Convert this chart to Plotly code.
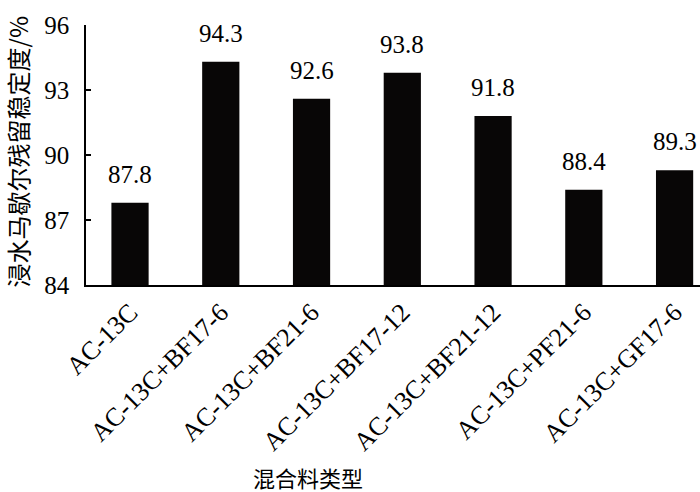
import plotly.graph_objects as go

categories = ["AC-13C", "AC-13C+BF17-6", "AC-13C+BF21-6", "AC-13C+BF17-12",
              "AC-13C+BF21-12", "AC-13C+PF21-6", "AC-13C+GF17-6"]
values = [87.8, 94.3, 92.6, 93.8, 91.8, 88.4, 89.3]
y_ticks = [84, 87, 90, 93, 96]
x_title = "混合料类型"
y_title = "浸水马歇尔残留稳定度/%"

serif = "Liberation Serif"
cjk = "Noto Sans CJK SC"

fig = go.Figure()
fig.add_trace(go.Bar(
    x=list(range(len(categories))), y=values,
    marker=dict(color="#080606", line=dict(width=0)),
    width=0.41,
))
for i, v in enumerate(values):
    fig.add_annotation(x=i, y=v, text=f"{v:.1f}", showarrow=False,
                       yanchor="bottom", yshift=13,
                       font=dict(family=serif, size=25, color="black"))

fig.add_annotation(xref="paper", yref="paper", x=0.3616, y=-0.738,
                   text=x_title, showarrow=False, xanchor="center", yanchor="middle",
                   font=dict(family=cjk, size=22, color="black"))
fig.add_annotation(xref="paper", yref="paper", x=-0.1115, y=0.512,
                   text=y_title, showarrow=False, textangle=-90,
                   xanchor="center", yanchor="middle",
                   font=dict(family=cjk, size=24, color="black"))

fig.update_layout(
    width=700, height=492,
    margin=dict(l=86, r=0, t=25, b=207),
    paper_bgcolor="white", plot_bgcolor="white",
    showlegend=False,
    font=dict(family=serif, color="black"),
    xaxis=dict(
        automargin=False,
        range=[-0.485, 6.28],
        tickmode="array", tickvals=list(range(len(categories))), ticktext=categories,
        tickangle=-45, tickfont=dict(size=26, family=serif, color="black"),
        showline=True, linecolor="black", linewidth=1.5,
        ticks="", showgrid=False, zeroline=False,
    ),
    yaxis=dict(
        automargin=False,
        range=[84, 96], tickmode="array", tickvals=y_ticks,
        tickfont=dict(size=25, family=serif, color="black"),
        showline=True, linecolor="black", linewidth=1.5,
        ticks="inside", ticklen=5, tickcolor="black", tickwidth=1.5,
        ticklabelstandoff=10,
        showgrid=False, zeroline=False,
    ),
)
fig.write_html("out.html", config={"displayModeBar": False},
               post_script="document.body.style.margin='0';")
